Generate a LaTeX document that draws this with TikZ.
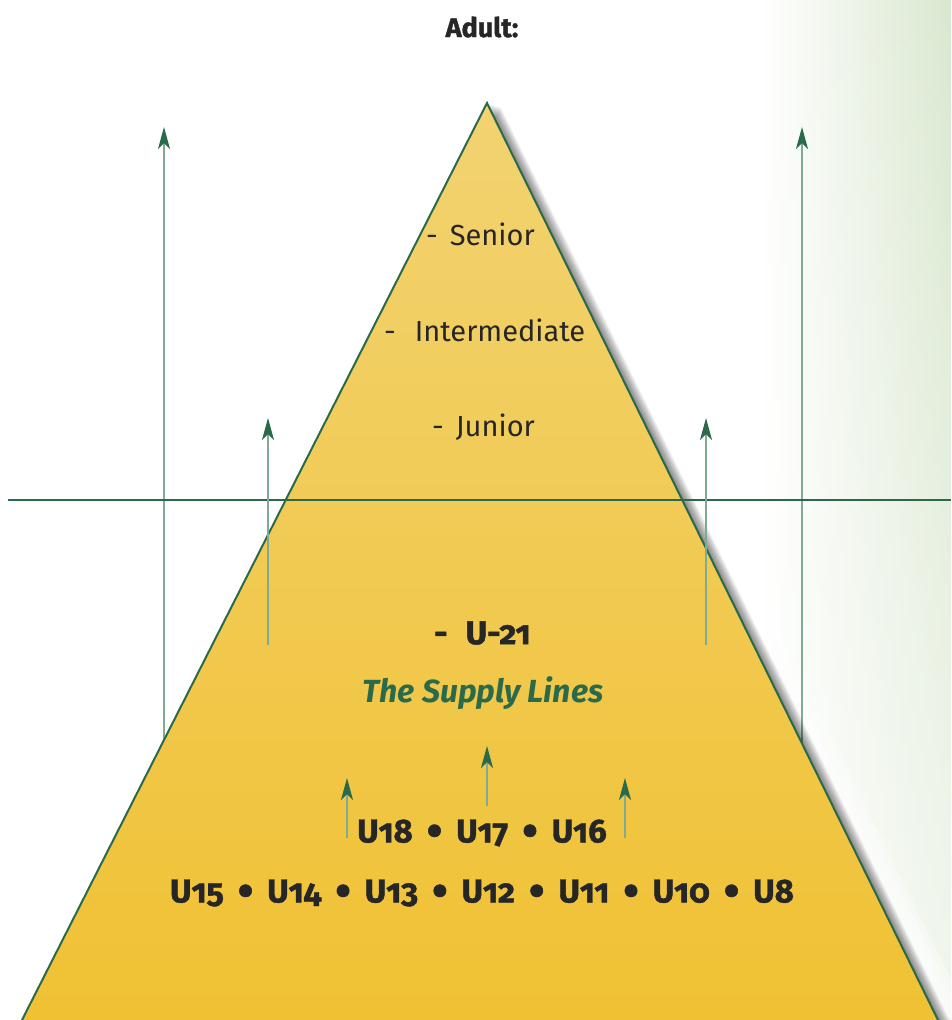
\documentclass[tikz,border=0pt]{standalone}
\usepackage{fontspec}
\setmainfont{Fira Sans}
\newfontfamily\headfont[Numbers=OldStyle, BoldFeatures={FakeBold=1.3}]{Fira Sans}
\usetikzlibrary{arrows.meta,fadings}
\definecolor{dkgreen}{HTML}{2A6A4B}
\definecolor{shaft}{HTML}{7FAA94}
\definecolor{pyrtop}{HTML}{F2D371}
\definecolor{pyrbot}{HTML}{F0C133}
\definecolor{bgreen}{HTML}{D9E7CF}
\definecolor{txt}{HTML}{262626}
\newcommand\bul{\hspace{14pt}\raisebox{-0.11em}{\scalebox{1.35}{\textbullet}}\hspace{14pt}}
\tikzfading[name=fadedown, top color=transparent!0, bottom color=transparent!65]
\tikzset{
  up/.style={line width=1.3pt, draw=shaft, -{Stealth[length=22pt,width=12pt,inset=6pt,color=dkgreen,fill=dkgreen]}},
  lvl/.style={font=\fontsize{29}{34}\selectfont, text=txt, inner sep=0pt},
  ulbl/.style={font=\headfont\bfseries\fontsize{33}{38}\selectfont, text=txt, inner sep=0pt},
}
\begin{document}
\begin{tikzpicture}[x=1pt,y=-1pt]
\useasboundingbox (0,0) rectangle (951,1020);
% background tint on the right
\shade[left color=white, right color=bgreen, path fading=fadedown] (760,0) rectangle (951,1020);
% corner points
\coordinate (apex) at (487,103);
\coordinate (bl) at (22,1020);
\coordinate (br) at (938,1020);
% soft white halo around the pyramid
\foreach \w in {12,24,36,48}{
  \draw[white, opacity=0.3, line width=\w pt, line join=round] ([xshift=6pt]bl) -- ([xshift=6pt]apex) -- ([xshift=6pt]br);
}
% long arrows (behind the pyramid)
\coordinate (la0) at (164,745);
\coordinate (la1) at (164,127);
\coordinate (ra0) at (802,745);
\coordinate (ra1) at (802,127);
\draw[up] (la0) -- (la1);
\draw[up] (ra0) -- (ra1);
% shadow
\foreach \i in {1,...,11}{
  \fill[black, opacity=0.05]
    ([xshift=\i*1.25pt, yshift=-\i*0.4pt]apex) -- ([xshift=\i*1.25pt, yshift=-\i*0.4pt]bl) -- ([xshift=\i*1.25pt, yshift=-\i*0.4pt]br) -- cycle;
}
% pyramid
\shade[top color=pyrtop, bottom color=pyrbot] (apex) -- (bl) -- (br) -- cycle;
\draw[dkgreen, line width=2pt, line join=miter] (bl) -- (apex) -- (br);
% horizontal divider
\coordinate (hl) at (8,500);
\coordinate (hr) at (951,500);
\draw[dkgreen, line width=2.4pt] (hl) -- (hr);
% medium arrows
\coordinate (lm0) at (268,645);
\coordinate (lm1) at (268,418);
\coordinate (rm0) at (706,645);
\coordinate (rm1) at (706,418);
\draw[up] (lm0) -- (lm1);
\draw[up] (rm0) -- (rm1);
% small arrows
\coordinate (s10) at (347,838);
\coordinate (s11) at (347,778);
\coordinate (s20) at (487,806);
\coordinate (s21) at (487,746);
\coordinate (s30) at (625,838);
\coordinate (s31) at (625,778);
\draw[up] (s10) -- (s11);
\draw[up] (s20) -- (s21);
\draw[up] (s30) -- (s31);
% texts
\node[font=\headfont\bfseries\fontsize{27}{32}\selectfont, text=txt, inner sep=0pt] (title) at (482,27) {Adult:};
\node[lvl, anchor=west] (senior) at (426,234) {-\hspace{12pt}Senior};
\node[lvl, anchor=west] (inter) at (384,330) {-\hspace{19pt}Intermediate};
\node[lvl, anchor=west] (junior) at (432,427) {-\hspace{12pt}Junior};
\node[ulbl, anchor=west] (u21) at (434,633) {-\hspace{18pt}U-21};
\node[font=\headfont\bfseries\itshape\fontsize{32}{37}\selectfont, text=dkgreen, inner sep=0pt] (supply) at (483,693) {The Supply Lines};
\node[ulbl] (row1) at (482,833) {U18\bul U17\bul U16};
\node[ulbl] (row2) at (482,893) {U15\bul U14\bul U13\bul U12\bul U11\bul U10\bul U8};
\end{tikzpicture}
\end{document}
